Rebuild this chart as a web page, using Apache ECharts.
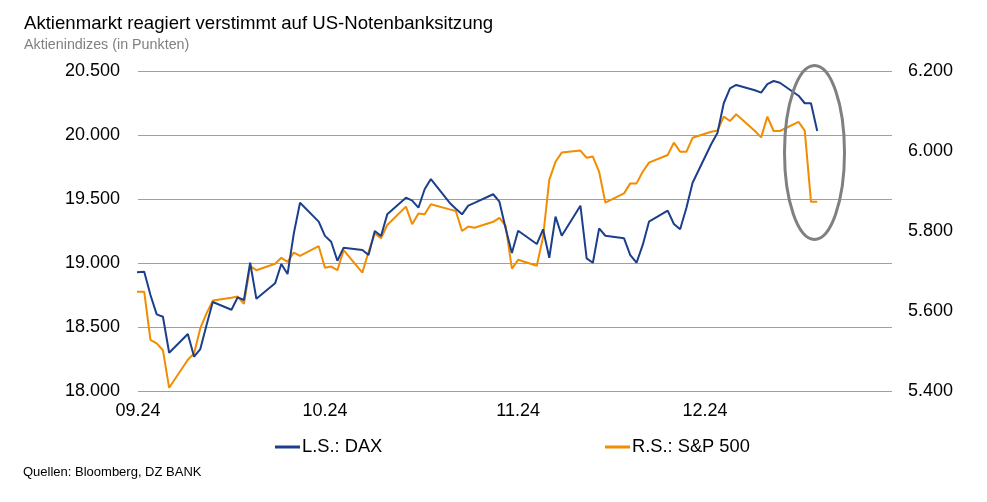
<!DOCTYPE html>
<html>
<head>
<meta charset="utf-8">
<script src="https://cdn.jsdelivr.net/npm/echarts@6/dist/echarts.min.js"></script>
<style>
html,body{margin:0;padding:0;background:#fff;}
#c{width:987px;height:502px;}
</style>
</head>
<body>
<div id="c"></div>
<script>
// Trading days (S&P holidays carried with previous close)
const dates = [
 '2024-08-30',
 '2024-09-02','2024-09-03','2024-09-04','2024-09-05','2024-09-06',
 '2024-09-09','2024-09-10','2024-09-11','2024-09-12','2024-09-13',
 '2024-09-16','2024-09-17','2024-09-18','2024-09-19','2024-09-20',
 '2024-09-23','2024-09-24','2024-09-25','2024-09-26','2024-09-27',
 '2024-09-30',
 '2024-10-01','2024-10-02','2024-10-03','2024-10-04',
 '2024-10-07','2024-10-08','2024-10-09','2024-10-10','2024-10-11',
 '2024-10-14','2024-10-15','2024-10-16','2024-10-17','2024-10-18',
 '2024-10-21','2024-10-22','2024-10-23','2024-10-24','2024-10-25',
 '2024-10-28','2024-10-29','2024-10-30','2024-10-31',
 '2024-11-01',
 '2024-11-04','2024-11-05','2024-11-06','2024-11-07','2024-11-08',
 '2024-11-11','2024-11-12','2024-11-13','2024-11-14','2024-11-15',
 '2024-11-18','2024-11-19','2024-11-20','2024-11-21','2024-11-22',
 '2024-11-25','2024-11-26','2024-11-27','2024-11-28','2024-11-29',
 '2024-12-02','2024-12-03','2024-12-04','2024-12-05','2024-12-06',
 '2024-12-09','2024-12-10','2024-12-11','2024-12-12','2024-12-13',
 '2024-12-16','2024-12-17','2024-12-18','2024-12-19'
];
const dax = [
 18920,
 18932,18750,18599,18580,18299,
 18445,18268,18328,18515,18695,
 18635,18732,18711,19002,18720,
 18841,18992,18914,19230,19471,
 19323,
 19212,19166,19018,19120,
 19102,19062,19250,19211,19380,
 19510,19487,19432,19576,19656,
 19471,19424,19380,19448,19470,
 19537,19479,19270,19078,
 19252,
 19148,19263,19041,19362,19213,
 19448,19036,19002,19271,19213,
 19193,19062,19002,19141,19323,
 19409,19305,19263,19430,19627,
 19930,20018,20248,20365,20391,
 20350,20331,20398,20422,20408,
 20307,20248,20248,20031
];
const spx = [
 5648,
 5648,5528,5519,5502,5408,
 5478,5494,5557,5594,5626,
 5633,5636,5618,5712,5702,
 5718,5733,5723,5746,5738,
 5762,
 5708,5711,5702,5752,
 5696,5748,5794,5782,5815,
 5861,5817,5844,5842,5867,
 5854,5850,5800,5811,5808,
 5823,5833,5813,5706,
 5728,
 5713,5785,5928,5973,5996,
 6001,5983,5986,5948,5871,
 5894,5919,5919,5948,5971,
 5990,6021,5998,5998,6033,
 6048,6051,6086,6075,6092,
 6050,6034,6086,6050,6050,
 6073,6051,5873,5873
];
const seriesNames = ['L.S.: DAX', 'R.S.: S&P 500'];
const titleText = 'Aktienmarkt reagiert verstimmt auf US-Notenbanksitzung';
const subtitleText = 'Aktienindizes (in Punkten)';
const sourceText = 'Quellen: Bloomberg, DZ BANK';

const FONT = '"Liberation Sans", Arial, sans-serif';
const BLUE = '#1b3f8b';
const ORANGE = '#f28c00';

function thousands(v){
  return String(v).replace(/\B(?=(\d{3})+(?!\d))/g, '.');
}
function pad(n){ return (n < 10 ? '0' : '') + n; }

const chart = echarts.init(document.getElementById('c'), null, {renderer:'canvas'});
chart.setOption({
  animation: false,
  backgroundColor: '#ffffff',
  title: [
    {text: titleText, left: 24, top: 14, padding: 0,
     textStyle: {fontFamily: FONT, fontSize: 18.6, fontWeight: 'normal', color: '#000'}},
    {text: subtitleText, left: 24, top: 38, padding: 0,
     textStyle: {fontFamily: FONT, fontSize: 14.3, fontWeight: 'normal', color: '#808080'}},
    {text: sourceText, left: 23, top: 466, padding: 0,
     textStyle: {fontFamily: FONT, fontSize: 13, fontWeight: 'normal', color: '#000'}}
  ],
  legend: [
    {data: [seriesNames[0]], left: 275, top: 438, padding: 0,
     itemWidth: 25, itemHeight: 3, icon: 'rect',
     textStyle: {fontFamily: FONT, fontSize: 18.3, color: '#000', padding: [0,0,0,-3]}},
    {data: [seriesNames[1]], left: 605, top: 438, padding: 0,
     itemWidth: 25, itemHeight: 3, icon: 'rect',
     textStyle: {fontFamily: FONT, fontSize: 18.3, color: '#000', padding: [0,0,0,-3]}}
  ],
  grid: {left: 138, right: 95, top: 71, bottom: 111, containLabel: false},
  xAxis: {
    type: 'time',
    min: '2024-09-01',
    max: '2024-12-31',
    minInterval: 28 * 86400000,
    maxInterval: 31 * 86400000,
    axisLine: {show: false},
    axisTick: {show: false},
    splitLine: {show: false},
    axisLabel: {
      margin: 11,
      fontFamily: FONT, fontSize: 18, color: '#000',
      showMaxLabel: false,
      hideOverlap: false,
      formatter: function (val) {
        const d = new Date(val);
        return pad(d.getMonth() + 1) + '.' + String(d.getFullYear()).slice(2);
      }
    }
  },
  yAxis: [
    {
      type: 'value', min: 18000, max: 20500, interval: 500, position: 'left',
      axisLine: {show: false}, axisTick: {show: false},
      splitLine: {show: true, lineStyle: {color: '#a0a0a0', width: 1}},
      axisLabel: {margin: 18, fontFamily: FONT, fontSize: 18, color: '#000', formatter: thousands}
    },
    {
      type: 'value', min: 5400, max: 6200, interval: 200, position: 'right',
      axisLine: {show: false}, axisTick: {show: false},
      splitLine: {show: false},
      axisLabel: {margin: 16, fontFamily: FONT, fontSize: 18, color: '#000', formatter: thousands}
    }
  ],
  series: [
    {
      name: seriesNames[0], type: 'line', yAxisIndex: 0,
      data: dates.map((d, i) => [d, dax[i]]),
      showSymbol: false, symbol: 'none', clip: true,
      lineStyle: {color: BLUE, width: 2}, itemStyle: {color: BLUE},
      z: 3
    },
    {
      name: seriesNames[1], type: 'line', yAxisIndex: 1,
      data: dates.map((d, i) => [d, spx[i]]),
      showSymbol: false, symbol: 'none', clip: true,
      lineStyle: {color: ORANGE, width: 2}, itemStyle: {color: ORANGE},
      z: 2
    }
  ],
  graphic: [
    {
      type: 'ellipse',
      shape: {cx: 814.5, cy: 152.5, rx: 30, ry: 87},
      style: {fill: 'none', stroke: '#808080', lineWidth: 3},
      z: 10
    }
  ]
});
</script>
</body>
</html>
